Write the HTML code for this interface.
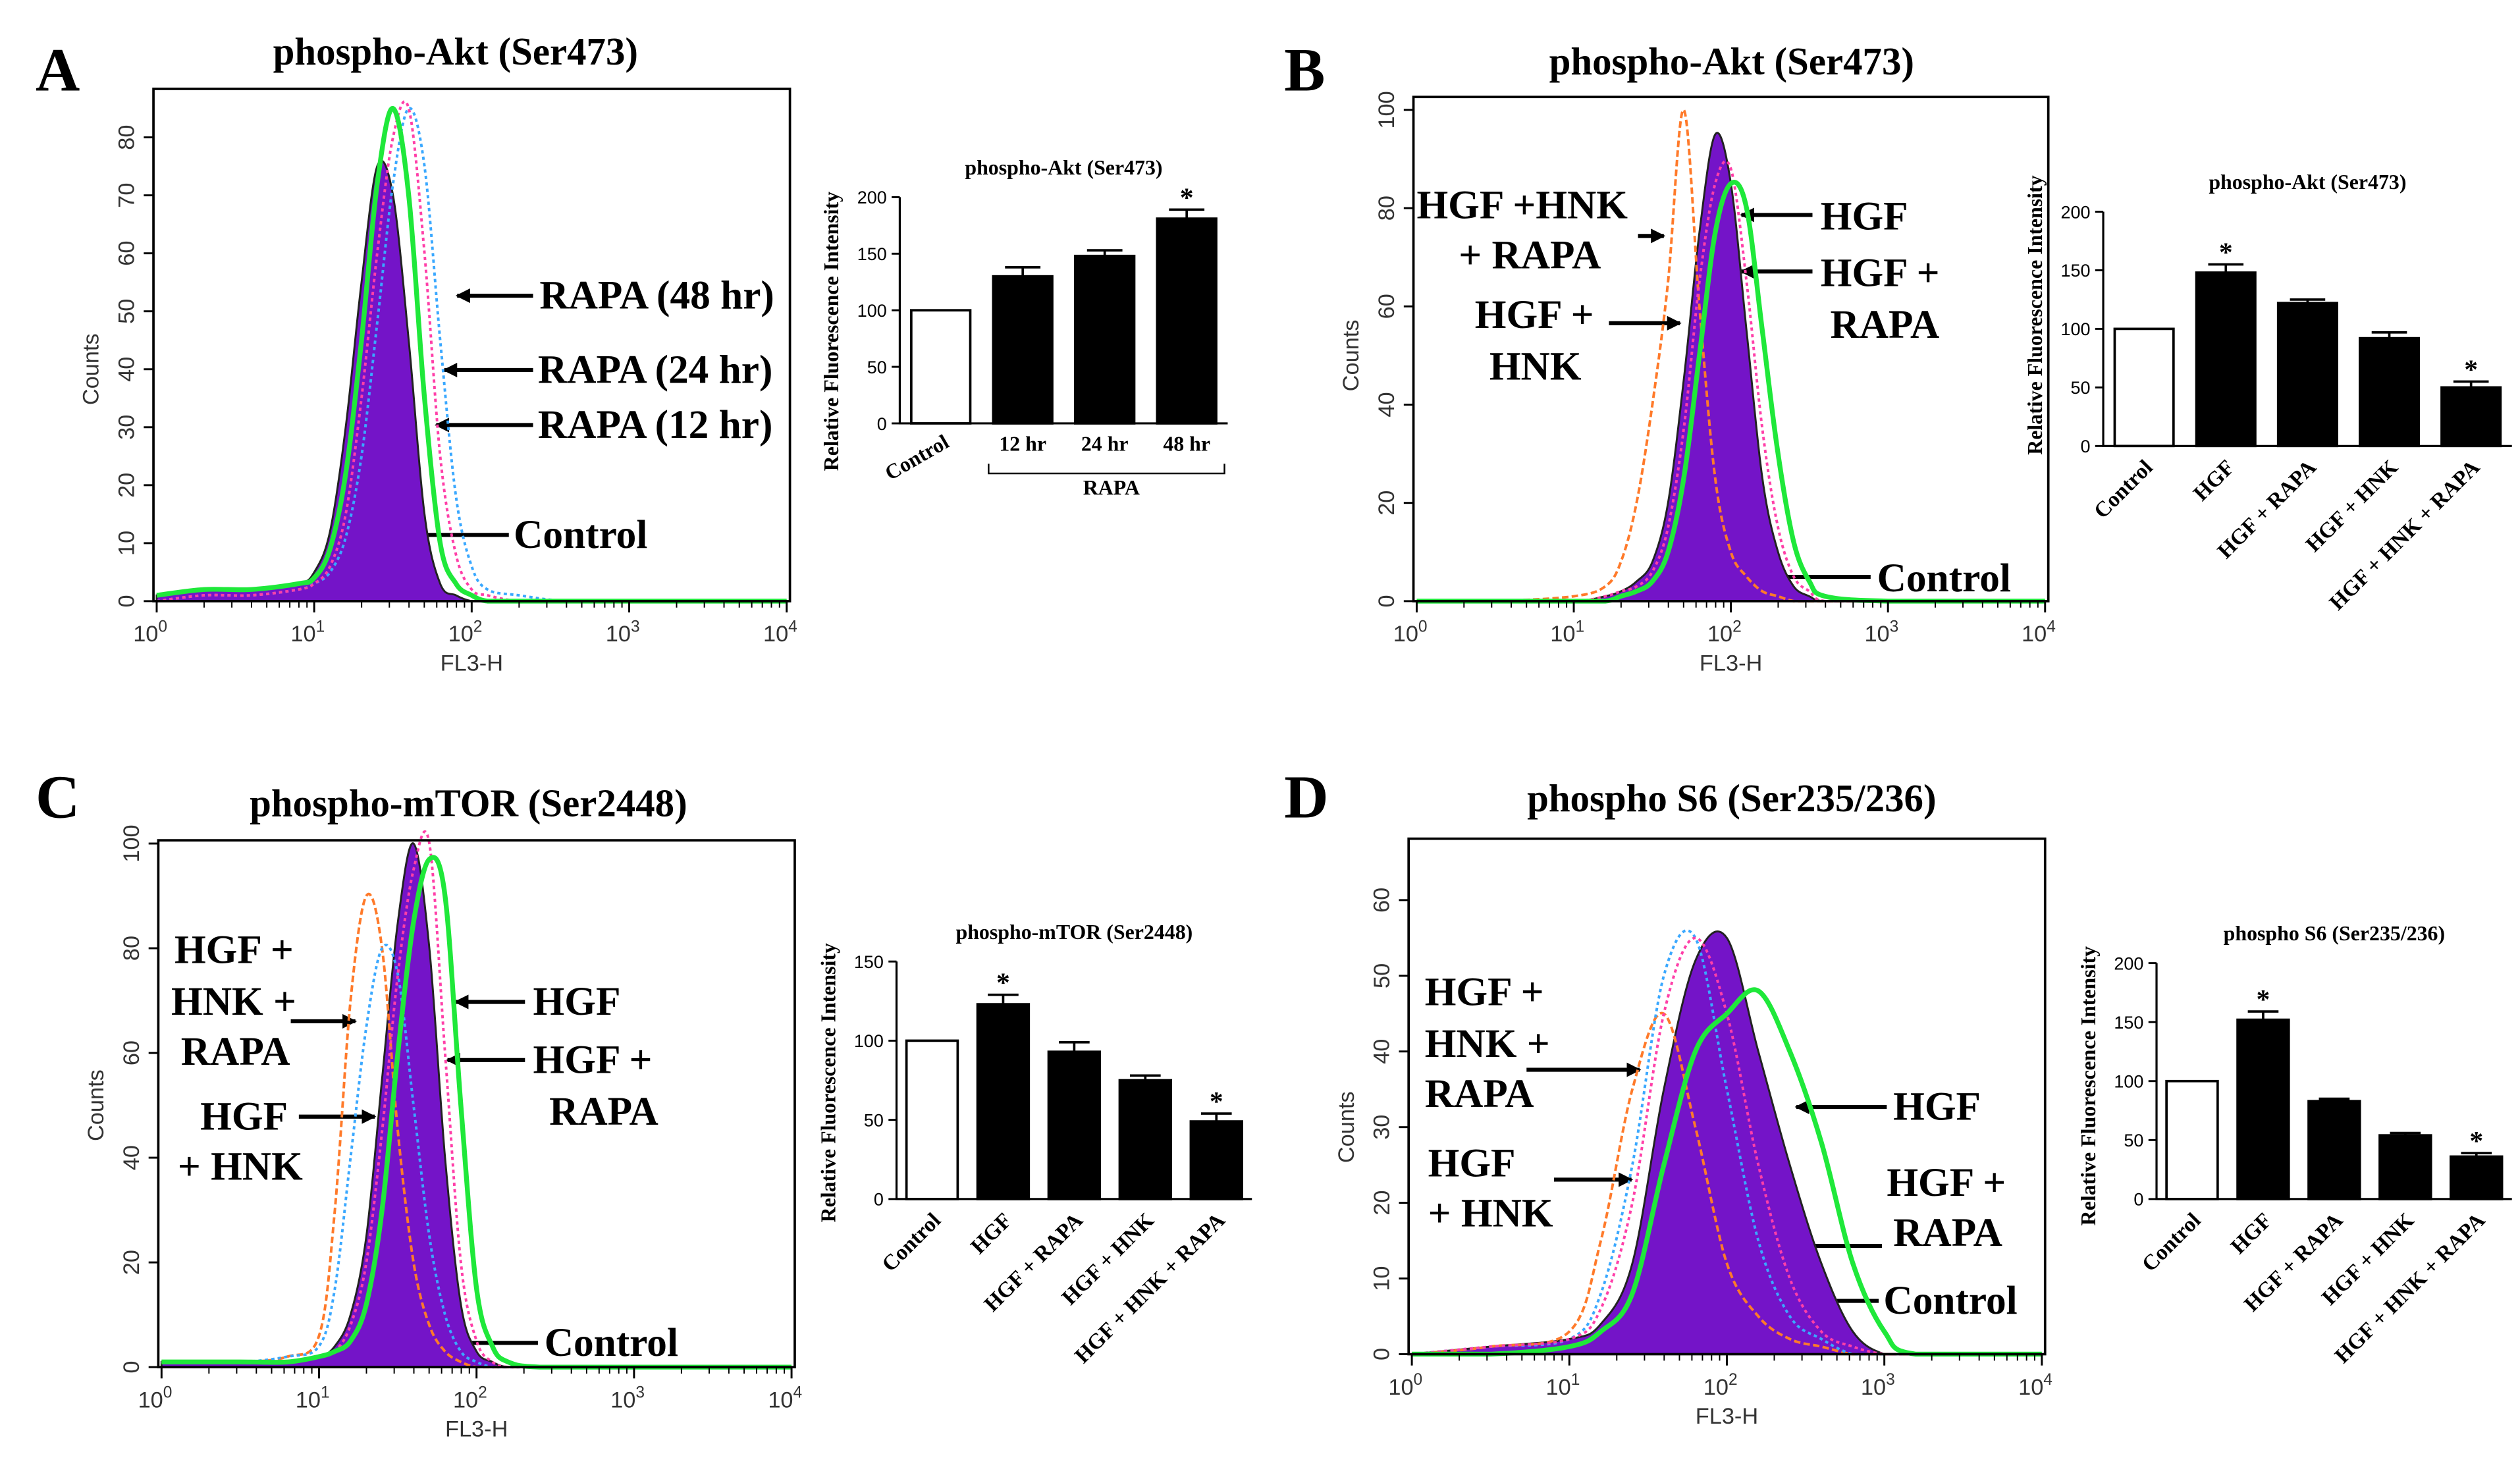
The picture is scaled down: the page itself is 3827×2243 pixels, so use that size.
<!DOCTYPE html>
<html><head><meta charset="utf-8">
<style>
html,body{margin:0;padding:0;background:#fff;}
svg{display:block;}
.serif{font-family:"Liberation Serif",serif;font-weight:bold;fill:#000;}
.sans{font-family:"Liberation Sans",sans-serif;fill:#333;}
</style></head>
<body>
<svg id="fig" width="3827" height="2243" viewBox="0 0 1560 914" preserveAspectRatio="none" xmlns="http://www.w3.org/2000/svg">
<defs>
<marker id="ah" markerWidth="9" markerHeight="9" refX="8" refY="4.5" orient="auto" markerUnits="userSpaceOnUse">
<path d="M0,0 L9,4.5 L0,9 z" fill="#000"/></marker>
</defs>
<rect x="0" y="0" width="1560" height="914" fill="#fff"/>
<text class="serif" x="22" y="56" font-size="38">A</text>
<text class="serif" x="795" y="56" font-size="38">B</text>
<text class="serif" x="22" y="506" font-size="38">C</text>
<text class="serif" x="795" y="506" font-size="38">D</text>
<text class="serif" x="282" y="40" font-size="24" text-anchor="middle">phospho-Akt (Ser473)</text>
<text class="serif" x="1072" y="46" font-size="24" text-anchor="middle">phospho-Akt (Ser473)</text>
<text class="serif" x="290" y="505" font-size="24" text-anchor="middle">phospho-mTOR (Ser2448)</text>
<text class="serif" x="1072" y="502" font-size="24" text-anchor="middle">phospho S6 (Ser235/236)</text>
<g id="annot" font-size="25"></g>
</svg>
<script>
// ===== Histogram data =====
const logXA = [0,0.3,0.6,0.9,1.0,1.1,1.2,1.3,1.4,1.5,1.6,1.7,1.8,1.9,2.0,2.1,2.3,2.6,3,4];
const histA_control = [1,2,2,3,5,12,30,55,75,70,45,15,3,1,0,0,0,0,0,0];
const histA_12hr = [1,2,2,3,4,9,22,45,72,85,70,35,10,3,1,0,0,0,0,0];
const histA_24hr = [0,1,1,2,3,6,15,35,60,80,85,60,25,8,2,1,0,0,0,0];
const histA_48hr = [0,1,1,2,3,5,11,25,48,72,85,75,45,18,6,2,1,0,0,0];

const logXB = [0,0.5,1,1.2,1.3,1.4,1.5,1.6,1.7,1.8,1.9,2.0,2.1,2.2,2.3,2.4,2.5,2.6,3,4];
const histB_hnkRapa = [0,0,1,3,8,20,40,65,100,60,25,10,5,2,1,0,0,0,0,0];
const histB_control = [0,0,0,1,2,4,8,20,45,75,95,85,55,25,10,3,1,0,0,0];
const histB_hgfRapa = [0,0,0,1,2,3,6,15,35,65,85,88,65,35,15,5,2,0,0,0];
const histB_hgf = [0,0,0,0,1,2,4,10,25,50,75,85,80,55,30,12,4,1,0,0];

const logXC = [0,0.5,0.8,1.0,1.1,1.2,1.3,1.4,1.5,1.6,1.7,1.8,1.9,2.0,2.1,2.2,2.4,3,4];
const histC_hnkRapa = [1,1,2,6,30,70,90,80,45,20,8,3,1,0,0,0,0,0,0];
const histC_hnk = [1,1,2,4,15,40,65,80,75,50,25,10,3,1,0,0,0,0,0];
const histC_control = [1,1,1,2,4,10,25,55,85,100,80,40,12,3,1,0,0,0,0];
const histC_hgfRapa = [1,1,1,2,3,8,20,45,75,95,100,60,20,5,1,0,0,0,0];
const histC_hgf = [1,1,1,2,3,5,12,30,60,85,97,90,50,15,4,1,0,0,0];

const logXD = [0,0.5,1,1.2,1.4,1.6,1.8,2.0,2.2,2.4,2.6,2.8,3.0,3.2,4];
const histD_hnkRapa = [0,1,3,15,35,45,30,12,5,2,1,0,0,0,0];
const histD_hnk = [0,1,2,8,25,50,55,35,15,5,2,0,0,0,0];
const histD_hgfRapa = [0,1,2,6,20,45,55,45,25,10,3,1,0,0,0];
const histD_control = [0,1,2,4,12,35,52,55,40,25,12,3,0,0,0];
const histD_hgf = [0,0,1,3,8,25,40,45,48,40,28,12,3,0,0];

// ===== Bar data =====
const barCatsA = ["Control","12 hr","24 hr","48 hr"];
const barValsA = [100,130,148,181];
const barErrA = [0,8,5,8];
const barStarA = [false,false,false,true];
const barCats5 = ["Control","HGF","HGF + RAPA","HGF + HNK","HGF + HNK + RAPA"];
const barValsB = [100,148,122,92,50];
const barErrB = [0,7,3,5,5];
const barStarB = [false,true,false,false,true];
const barValsC = [100,123,93,75,49];
const barErrC = [0,6,6,3,5];
const barStarC = [false,true,false,false,true];
const barValsD = [100,152,83,54,36];
const barErrD = [0,7,2,2,3];
const barStarD = [false,true,false,false,true];
const barTicksA = [0,50,100,150,200];
const barTicksB = [0,50,100,150,200];
const barTicksC = [0,50,100,150];
const barTicksD = [0,50,100,150,200];

const NS = "http://www.w3.org/2000/svg";
const svg = document.getElementById('fig');
function mk(tag, parent){ const e=document.createElementNS(NS,tag); parent.appendChild(e); return e; }
function sa(e, o){ for(const k in o) e.setAttribute(k,o[k]); return e; }

function smoothPath(P, yb){
  let d = 'M'+P[0][0].toFixed(1)+','+P[0][1].toFixed(1);
  for(let i=0;i<P.length-1;i++){
    const p0=P[Math.max(0,i-1)], p1=P[i], p2=P[i+1], p3=P[Math.min(P.length-1,i+2)];
    const c1x=p1[0]+(p2[0]-p0[0])/6, c1y=Math.min(yb,p1[1]+(p2[1]-p0[1])/6);
    const c2x=p2[0]-(p3[0]-p1[0])/6, c2y=Math.min(yb,p2[1]-(p3[1]-p1[1])/6);
    d += ' C'+c1x.toFixed(1)+','+c1y.toFixed(1)+' '+c2x.toFixed(1)+','+c2y.toFixed(1)+' '+p2[0].toFixed(1)+','+p2[1].toFixed(1);
  }
  return d;
}

function hist(cfg){
  const g = mk('g', svg);
  
  
  const xs = v => cfg.x0 + (cfg.x1-cfg.x0)*v/4;
  const ys = v => cfg.yb - (cfg.yb-cfg.yt)*v/cfg.ymax;
  cfg.series.forEach(s=>{
    const P = s.ys.map((v,i)=>[xs(s.xs[i]), ys(v)]);
    const d = smoothPath(P, cfg.yb);
    const p = mk('path', g);
    if(s.fill){
      sa(p,{d: d+' L'+P[P.length-1][0]+','+cfg.yb+' L'+P[0][0]+','+cfg.yb+' Z', fill:s.fill, stroke:'#222', 'stroke-width':1.2});
    } else {
      sa(p,{d: d, fill:'none', stroke:s.color, 'stroke-width':s.w||1.6, 'stroke-dasharray':s.dash||'none'});
    }
    
    
  });
  const fr = mk('rect', g);
  sa(fr,{x:cfg.x0-2,y:cfg.yt-cfg.pad,width:cfg.x1-cfg.x0+4,height:cfg.yb-cfg.yt+cfg.pad,fill:'none',stroke:'#000','stroke-width':1.5});
  
  
  for(let v=0; v<=cfg.ymax; v+=cfg.ystep){
    const t = mk('line', g); sa(t,{x1:cfg.x0-8,x2:cfg.x0-2,y1:ys(v),y2:ys(v),stroke:'#000','stroke-width':1.2});
    
    
    const l = mk('text', g); sa(l,{x:cfg.x0-14,y:ys(v),transform:'rotate(-90 '+(cfg.x0-14)+' '+ys(v)+')','text-anchor':'middle','font-size':14,class:'sans'});
    l.textContent = v;
    
    
  }
  for(let d=0; d<=4; d++){
    const t = mk('line', g); sa(t,{x1:xs(d),x2:xs(d),y1:cfg.yb,y2:cfg.yb+7,stroke:'#000','stroke-width':1.2});
    
    
    for(let m=2;m<10 && d<4;m++){
      const mt = mk('line', g); const xx = xs(d+Math.log10(m));
      sa(mt,{x1:xx,x2:xx,y1:cfg.yb,y2:cfg.yb+4,stroke:'#000','stroke-width':0.8});
    }
    const l = mk('text', g); sa(l,{x:xs(d)-4,y:cfg.yb+25,'text-anchor':'middle','font-size':14,class:'sans'});
    l.innerHTML = '10<tspan dy="-6" font-size="10">'+d+'</tspan>';
    
    
  }
  const xt = mk('text', g); sa(xt,{x:xs(2),y:cfg.yb+43,'text-anchor':'middle','font-size':14,class:'sans'});
  xt.textContent='FL3-H';
  
  
  const yt = mk('text', g); const yx=cfg.x0-36, yy=(cfg.yt+cfg.yb)/2;
  sa(yt,{x:yx,y:yy,transform:'rotate(-90 '+yx+' '+yy+')','text-anchor':'middle','font-size':14,class:'sans'});
  yt.textContent='Counts';
  
  
}

function bars(cfg){
  const g = mk('g', svg);
  
  
  const n = cfg.cats.length;
  const slot = (cfg.x1-cfg.x0)/n;
  const ys = v => cfg.yb - (cfg.yb-cfg.yt)*v/cfg.ymax;
  const bw = slot*0.72;
  cfg.vals.forEach((v,i)=>{
    const cx = cfg.x0 + slot*(i+0.5);
    if(cfg.err[i]>0){
      const e = mk('line', g); sa(e,{x1:cx,x2:cx,y1:ys(v),y2:ys(v+cfg.err[i]),stroke:'#000','stroke-width':1.5});
      
      
      const c = mk('line', g); sa(c,{x1:cx-bw*0.3,x2:cx+bw*0.3,y1:ys(v+cfg.err[i]),y2:ys(v+cfg.err[i]),stroke:'#000','stroke-width':1.5});
    }
    const r = mk('rect', g);
    sa(r,{x:cx-bw/2,y:ys(v),width:bw,height:ys(0)-ys(v),fill:i===0?'#fff':'#000',stroke:'#000','stroke-width':1.5});
    
    
    if(cfg.star[i]){
      const s = mk('text', g); sa(s,{x:cx,y:ys(v+cfg.err[i])-2,'text-anchor':'middle','font-size':17,class:'serif'});
      s.textContent='*';
      
      
    }
    const lx = cx+6, ly = cfg.yb+14;
    const l = mk('text', g);
    if(cfg.straight){
      sa(l,{x:cx,y:cfg.yb+17,'text-anchor':'middle','font-size':13,class:'serif'});
      if(i===0) sa(l,{x:cx+6,y:cfg.yb+14,'text-anchor':'end',transform:'rotate(-30 '+(cx+6)+' '+(cfg.yb+14)+')'});
    } else {
      sa(l,{x:lx,y:ly,'text-anchor':'end','font-size':13.5,class:'serif',transform:'rotate(-45 '+lx+' '+ly+')'});
    }
    l.textContent = cfg.cats[i];
    
    
  });
  const ax = mk('path', g);
  sa(ax,{d:'M'+cfg.x0+','+(cfg.yt)+' L'+cfg.x0+','+cfg.yb+' L'+cfg.x1+','+cfg.yb,fill:'none',stroke:'#000','stroke-width':1.3});
  
  
  cfg.ticks.forEach(v=>{
    const t = mk('line', g); sa(t,{x1:cfg.x0-5,x2:cfg.x0,y1:ys(v),y2:ys(v),stroke:'#000','stroke-width':1.2});
    
    
    const l = mk('text', g); sa(l,{x:cfg.x0-8,y:ys(v)+4,'text-anchor':'end','font-size':11,class:'sans'});
    l.style.fill='#000';
    l.textContent=v;
    
    
  });
  const tt = mk('text', g); sa(tt,{x:(cfg.x0+cfg.x1)/2,y:cfg.yt-14,'text-anchor':'middle','font-size':13,class:'serif'});
  tt.textContent = cfg.title;
  
  
  const yx = cfg.x0-38, yy=cfg.ycap;
  const yl = mk('text', g); sa(yl,{x:yx,y:yy,transform:'rotate(-90 '+yx+' '+yy+')','text-anchor':'middle','font-size':13,class:'serif'});
  yl.textContent='Relative Fluorescence Intensity';
  
  
  return g;
}

const PURPLE='#7414c8', GREEN='#1fe83a', PINK='#ff3fa8', BLUE='#3aa8ff', ORANGE='#ff7a2a';

hist({name:'histogram-a',x0:97,x1:487,yt:85,yb:372,ymax:80,ystep:10,pad:30,series:[
  {name:'control-fill',xs:logXA,ys:histA_control,fill:PURPLE},
  {name:'rapa-48hr-line',xs:logXA,ys:histA_48hr,color:BLUE,dash:'2,2'},
  {name:'rapa-24hr-line',xs:logXA,ys:histA_24hr,color:PINK,dash:'2,2'},
  {name:'rapa-12hr-line',xs:logXA,ys:histA_12hr,color:GREEN,w:3}]});
hist({name:'histogram-b',x0:877,x1:1266,yt:68,yb:372,ymax:100,ystep:20,pad:8,series:[
  {name:'control-fill',xs:logXB,ys:histB_control,fill:PURPLE},
  {name:'hgf-hnk-rapa-line',xs:logXB,ys:histB_hnkRapa,color:ORANGE,dash:'4,2'},
  {name:'hgf-rapa-line',xs:logXB,ys:histB_hgfRapa,color:PINK,dash:'2,2'},
  {name:'hgf-line',xs:logXB,ys:histB_hgf,color:GREEN,w:3}]});
hist({name:'histogram-c',x0:100,x1:490,yt:522,yb:846,ymax:100,ystep:20,pad:2,series:[
  {name:'control-fill',xs:logXC,ys:histC_control,fill:PURPLE},
  {name:'hgf-hnk-rapa-line',xs:logXC,ys:histC_hnkRapa,color:ORANGE,dash:'4,2'},
  {name:'hgf-hnk-line',xs:logXC,ys:histC_hnk,color:BLUE,dash:'2,2'},
  {name:'hgf-rapa-line',xs:logXC,ys:histC_hgfRapa,color:PINK,dash:'2,2'},
  {name:'hgf-line',xs:logXC,ys:histC_hgf,color:GREEN,w:3}]});
hist({name:'histogram-d',x0:874,x1:1264,yt:557,yb:838,ymax:60,ystep:10,pad:38,series:[
  {name:'control-fill',xs:logXD,ys:histD_control,fill:PURPLE},
  {name:'hgf-hnk-rapa-line',xs:logXD,ys:histD_hnkRapa,color:ORANGE,dash:'4,2'},
  {name:'hgf-hnk-line',xs:logXD,ys:histD_hnk,color:BLUE,dash:'2,2'},
  {name:'hgf-rapa-line',xs:logXD,ys:histD_hgfRapa,color:PINK,dash:'2,2'},
  {name:'hgf-line',xs:logXD,ys:histD_hgf,color:GREEN,w:3}]});

const gA = bars({name:'bar-chart-a',x0:557,x1:760,yt:122,yb:262,ymax:200,cats:barCatsA,vals:barValsA,err:barErrA,star:barStarA,ticks:barTicksA,title:'phospho-Akt (Ser473)',ycap:205,straight:true});
bars({name:'bar-chart-b',x0:1302,x1:1555,yt:131,yb:276,ymax:200,cats:barCats5,vals:barValsB,err:barErrB,star:barStarB,ticks:barTicksB,title:'phospho-Akt (Ser473)',ycap:195});
bars({name:'bar-chart-c',x0:555,x1:775,yt:595,yb:742,ymax:150,cats:barCats5,vals:barValsC,err:barErrC,star:barStarC,ticks:barTicksC,title:'phospho-mTOR (Ser2448)',ycap:670});
bars({name:'bar-chart-d',x0:1335,x1:1555,yt:596,yb:742,ymax:200,cats:barCats5,vals:barValsD,err:barErrD,star:barStarD,ticks:barTicksD,title:'phospho S6 (Ser235/236)',ycap:672});

const br = mk('path', gA);
sa(br,{d:'M612,287 L612,293 L758,293 L758,287',fill:'none',stroke:'#000','stroke-width':1});


const brt = mk('text', gA); sa(brt,{x:688,y:306,'text-anchor':'middle','font-size':13,class:'serif'});
brt.textContent='RAPA';



const annot = document.getElementById('annot');
const labels = [
 ["RAPA (48 hr)",334,191],["RAPA (24 hr)",333,237],["RAPA (12 hr)",333,271],["Control",318,339],
 ["HGF +HNK",877,135],["+ RAPA",903,166],["HGF +",913,203],["HNK",922,235],["HGF",1127,142],["HGF +",1127,177],["RAPA",1133,209],["Control",1162,366],
 ["HGF +",108,596],["HNK +",106,628],["RAPA",112,659],["HGF",124,699],["+ HNK",110,730],["HGF",330,628],["HGF +",330,664],["RAPA",340,696],["Control",337,839],
 ["HGF +",882,622],["HNK +",882,654],["RAPA",882,685],["HGF",884,728],["+ HNK",884,759],["HGF",1172,693],["HGF +",1168,740],["RAPA",1172,771],["Control",1166,813]
];
labels.forEach(a=>{
  const t = mk('text', annot); sa(t,{x:a[1],y:a[2],class:'serif'});
  t.textContent = a[0];
  
  
});
const arrows = [
 [330,183,283,183],[330,229,275,229],[330,263,270,263],[315,331,248,331],
 [1014,146,1030,146],[996,200,1040,200],[1122,133,1078,133],[1122,168,1078,168],[1158,357,1090,357],
 [180,632,220,632],[185,691,232,691],[325,620,282,620],[325,656,277,656],[333,831,262,831],
 [945,662,1015,662],[962,730,1010,730],[1168,685,1112,685],[1165,771,1100,771],[1163,805,1100,805]
];
arrows.forEach(a=>{
  const l = mk('line', annot);
  sa(l,{x1:a[0],y1:a[1],x2:a[2],y2:a[3],stroke:'#000','stroke-width':2.5,'marker-end':'url(#ah)'});
  
  
});
</script>
</body></html>
